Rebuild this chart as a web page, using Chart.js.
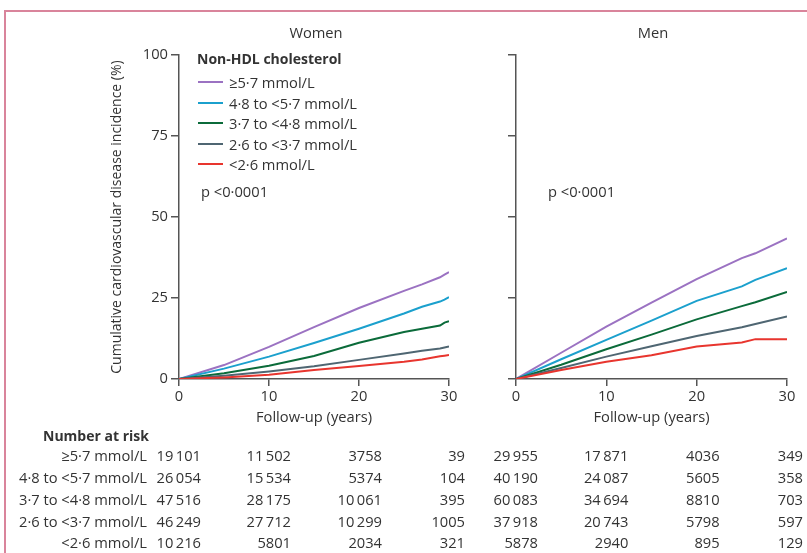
<!DOCTYPE html>
<html>
<head>
<meta charset="utf-8">
<script src="https://cdn.jsdelivr.net/npm/chart.js@4.4.1/dist/chart.umd.min.js"></script>
<style>
  body { margin: 0; background: #fff; font-family: 'Open Sans', sans-serif; color: #333; }
  #wrap { position: relative; width: 807px; height: 553px; overflow: hidden; }
  #frame { position: absolute; left: 4px; top: 10px; width: 820px; height: 560px;
           border-top: 2px solid #d9849b; border-left: 2px solid #d9849b; }
  canvas { position: absolute; left: 0; top: 0; }
  .t { position: absolute; font-size: 14.7px; line-height: 18px; white-space: nowrap; }
  .b { font-weight: bold; font-size: 14px; }
  .leg { position: absolute; height: 2px; width: 25px; }
</style>
</head>
<body>
<div id="wrap">
  <div id="frame"></div>
  <canvas id="women" width="807" height="440"></canvas>
  <canvas id="men" width="807" height="440"></canvas>
  <div id="text"></div>
</div>
<script>
// Follow-up years at which the curves were read
const yearsWomen = [0, 5, 10, 15, 20, 25, 27, 29, 29.5, 30];
const yearsMen = [0, 5, 10, 15, 20, 25, 26.5, 30];

const groups = ["≥5·7 mmol/L", "4·8 to <5·7 mmol/L", "3·7 to <4·8 mmol/L", "2·6 to <3·7 mmol/L", "<2·6 mmol/L"];
const colors = ["#9b72c2", "#1ba0cd", "#0b6b3a", "#4f6672", "#e8352e"];

// Cumulative incidence (%) - women
const womenHigh = [0, 4.3, 9.9, 16.0, 21.9, 27.2, 29.2, 31.4, 32.2, 33.0];
const womenMidHigh = [0, 3.2, 6.9, 11.1, 15.5, 20.2, 22.3, 23.9, 24.5, 25.3];
const womenMid = [0, 1.8, 4.1, 7.1, 11.2, 14.5, 15.5, 16.5, 17.4, 17.8];
const womenMidLow = [0, 1.0, 2.3, 3.9, 5.9, 7.9, 8.7, 9.4, 9.7, 10.0];
const womenLow = [0, 0.5, 1.3, 2.8, 4.0, 5.3, 6.0, 7.0, 7.2, 7.4];

// Cumulative incidence (%) - men
const menHigh = [0, 8.1, 16.2, 23.6, 30.8, 37.3, 38.8, 43.4];
const menMidHigh = [0, 6.1, 12.1, 18.0, 24.1, 28.6, 30.6, 34.2];
const menMid = [0, 4.4, 9.2, 13.7, 18.4, 22.5, 23.7, 26.9];
const menMidLow = [0, 3.4, 6.9, 10.1, 13.3, 16.0, 17.0, 19.3];
const menLow = [0, 2.8, 5.3, 7.3, 10.0, 11.3, 12.3, 12.3];

// Number at risk at 0, 10, 20, 30 years
const riskYears = [0, 10, 20, 30];
const riskWomen = [
  [19101, 11502, 3758, 39],
  [26054, 15534, 5374, 104],
  [47516, 28175, 10061, 395],
  [46249, 27712, 10299, 1005],
  [10216, 5801, 2034, 321]
];
const riskMen = [
  [29955, 17871, 4036, 349],
  [40190, 24087, 5605, 358],
  [60083, 34694, 8810, 703],
  [37918, 20743, 5798, 597],
  [5878, 2940, 895, 129]
];

Chart.defaults.font.family = "'Open Sans', sans-serif";
Chart.defaults.font.size = 14.7;
Chart.defaults.color = "#333";

function makeSets(years, series) {
  return series.map((vals, i) => ({
    label: groups[i],
    data: vals.map((v, j) => ({ x: years[j], y: v })),
    borderColor: colors[i],
    borderWidth: 2,
    pointRadius: 0,
    tension: 0,
    fill: false
  }));
}

function makeChart(id, years, series, opts) {
  const ctx = document.getElementById(id).getContext("2d");
  return new Chart(ctx, {
    type: "line",
    data: { datasets: makeSets(years, series).reverse() },
    options: {
      responsive: false,
      animation: false,
      events: [],
      layout: { padding: { left: 0, top: 55, right: opts.padRight, bottom: 0 } },
      plugins: { legend: { display: false }, tooltip: { enabled: false } },
      scales: {
        x: {
          type: "linear",
          min: 0,
          max: 30,
          ticks: { stepSize: 10, padding: 2, color: "#333" },
          grid: { drawOnChartArea: false, tickLength: 7, color: "#555", lineWidth: 1.5 },
          border: { color: "#555", width: 1.5 },
          title: { display: true, text: "Follow-up (years)", color: "#333", padding: { top: 0, bottom: 13 } },
          afterFit: (s) => { s.height = 61; }
        },
        y: {
          min: 0,
          max: 100,
          ticks: {
            stepSize: 25,
            padding: 3,
            color: "#333",
            callback: (v) => opts.yLabels ? v : ""
          },
          grid: { drawOnChartArea: false, tickLength: 8, color: "#555", lineWidth: 1.5 },
          border: { color: "#555", width: 1.5 },
          title: {
            display: opts.yLabels,
            text: "Cumulative cardiovascular disease incidence (%)",
            color: "#333",
            font: { size: 14 },
            padding: { top: 108.6, bottom: 0 }
          },
          afterFit: (s) => { s.width = opts.yWidth; }
        }
      }
    }
  });
}

const womenChart = makeChart("women", yearsWomen,
  [womenHigh, womenMidHigh, womenMid, womenMidLow, womenLow],
  { padRight: 358, yWidth: 179, yLabels: true });
const menChart = makeChart("men", yearsMen,
  [menHigh, menMidHigh, menMid, menMidLow, menLow],
  { padRight: 20, yWidth: 516, yLabels: false });

// HTML text
const box = document.getElementById("text");
function addText(str, x, y, align, cls) {
  const d = document.createElement("div");
  d.className = "t" + (cls ? " " + cls : "");
  d.textContent = str;
  d.style.top = (y - 9) + "px";
  if (align === "right") {
    d.style.right = (807 - x) + "px";
  } else if (align === "center") {
    d.style.left = x + "px";
    d.style.transform = "translateX(-50%)";
  } else {
    d.style.left = x + "px";
  }
  box.appendChild(d);
}

function fmt(n) {
  const s = String(n);
  return n >= 10000 ? s.slice(0, s.length - 3) + "\u2009" + s.slice(-3) : s;
}

addText("Women", 316, 32, "center");
addText("Men", 653, 32, "center");

addText("Non-HDL cholesterol", 197, 59, "left", "b");
const legY = [82, 103, 123, 144, 164];
groups.forEach((g, i) => {
  const l = document.createElement("div");
  l.className = "leg";
  l.style.left = "198px";
  l.style.top = (legY[i] - 1) + "px";
  l.style.background = colors[i];
  box.appendChild(l);
  addText(g, 229, legY[i], "left");
});

addText("p <0·0001", 201, 191, "left");
addText("p <0·0001", 548, 191, "left");

// Number at risk table
addText("Number at risk", 43, 436, "left", "b");
const rowY = [455, 477, 499, 521, 542];
const colOffset = [22, 22, 23, 16];
groups.forEach((g, i) => {
  addText(g, 147, rowY[i], "right");
  riskYears.forEach((yr, j) => {
    const xw = womenChart.scales.x.getPixelForValue(yr) + colOffset[j];
    const xm = menChart.scales.x.getPixelForValue(yr) + colOffset[j];
    addText(fmt(riskWomen[i][j]), xw, rowY[i], "right");
    addText(fmt(riskMen[i][j]), xm, rowY[i], "right");
  });
});
</script>
</body>
</html>
